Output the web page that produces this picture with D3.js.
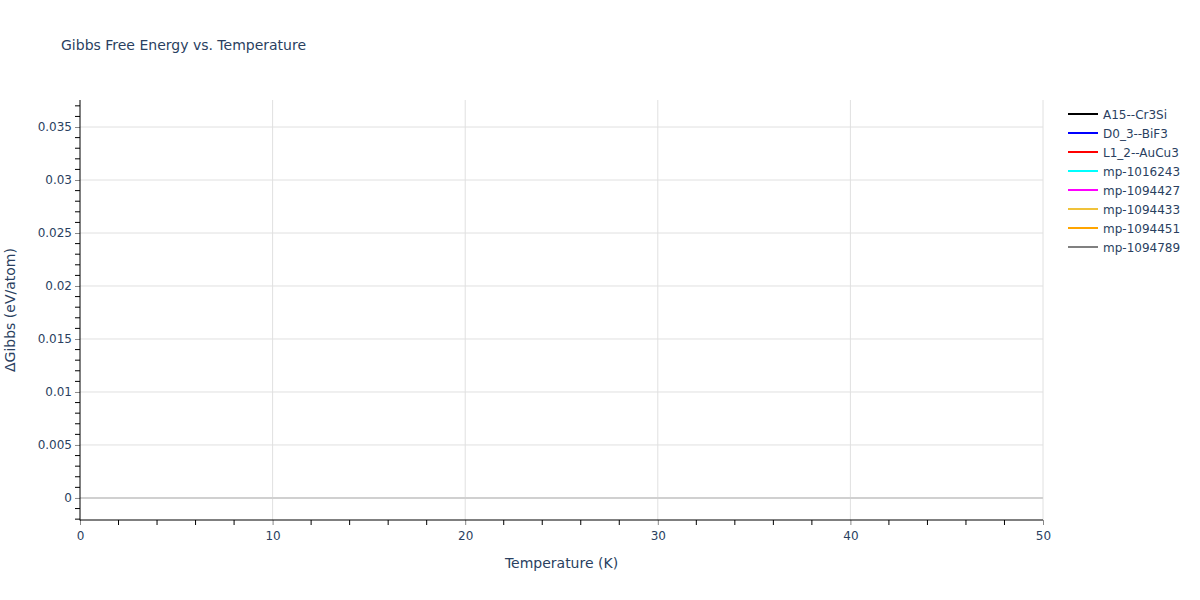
<!DOCTYPE html>
<html><head><meta charset="utf-8">
<script src="https://cdn.jsdelivr.net/npm/d3@7"></script>
<style>body{margin:0;background:#fff;font-family:"DejaVu Sans",Verdana,sans-serif;}</style>
</head><body><svg id="c" width="1200" height="600"></svg>
<script>
const seriesNames = ["A15--Cr3Si","D0_3--BiF3","L1_2--AuCu3","mp-1016243","mp-1094427","mp-1094433","mp-1094451","mp-1094789"];
const seriesColors = ["#000000","#0000ff","#ff0000","#00ffff","#ff00ff","#f0c23a","#ffa500","#808080"];
// No visible trace points in the reference: each series is empty
const seriesTemps = [[],[],[],[],[],[],[],[]];
const seriesValues = [[],[],[],[],[],[],[],[]];
const xTicks = [0,10,20,30,40,50];
const yTicks = [0,0.005,0.01,0.015,0.02,0.025,0.03,0.035];
const yTickLabels = ["0","0.005","0.01","0.015","0.02","0.025","0.03","0.035"];

const svg = d3.select("#c");
const L=80,R=1043,T=100,B=520;
const x = d3.scaleLinear().domain([0,50]).range([L,R]);
const y = d3.scaleLinear().domain([-0.00208,0.03755]).range([B,T]);
const txt="#2a3f5f";
const FF="'DejaVu Sans',Verdana,sans-serif";

// grid
svg.append("g").selectAll("line").data(xTicks.filter(d=>d>0)).join("line")
  .attr("x1",d=>x(d)).attr("x2",d=>x(d)).attr("y1",T).attr("y2",B)
  .attr("stroke","#e0e0e0").attr("stroke-width",1);
svg.append("g").selectAll("line").data(yTicks.filter(d=>d!==0)).join("line")
  .attr("x1",L).attr("x2",R).attr("y1",d=>y(d)).attr("y2",d=>y(d))
  .attr("stroke","#e0e0e0").attr("stroke-width",1);
// zero line
svg.append("line").attr("x1",L).attr("x2",R).attr("y1",y(0)).attr("y2",y(0))
  .attr("stroke","#d0d0d0").attr("stroke-width",2);

// traces
const line = d3.line().x(d=>x(d[0])).y(d=>y(d[1]));
seriesNames.forEach((n,i)=>{
  const pts = seriesTemps[i].map((t,j)=>[t,seriesValues[i][j]]);
  if(pts.length) svg.append("path").attr("d",line(pts)).attr("fill","none")
    .attr("stroke",seriesColors[i]).attr("stroke-width",2);
});

// minor ticks
const yMinor = d3.range(-2,38).map(k=>k*0.001).filter(v=>y(v)>=T && y(v)<=B && Math.abs(Math.round(v*200)-v*200)>1e-6);
svg.append("g").selectAll("line").data(yMinor).join("line")
  .attr("x1",L-5).attr("x2",L).attr("y1",d=>y(d)).attr("y2",d=>y(d)).attr("stroke","#000");
const xMinor = d3.range(0,51,2).filter(v=>v%10!==0);
svg.append("g").selectAll("line").data(xMinor).join("line")
  .attr("x1",d=>x(d)).attr("x2",d=>x(d)).attr("y1",B).attr("y2",B+5).attr("stroke","#000");

// axes
const yAxis = d3.axisLeft(y).tickValues(yTicks).tickFormat((d,i)=>yTickLabels[i]).tickSize(5).tickPadding(3);
const gy = svg.append("g").attr("transform",`translate(${L},0)`).call(yAxis);
const xAxis = d3.axisBottom(x).tickValues(xTicks).tickSize(5).tickPadding(6);
const gx = svg.append("g").attr("transform",`translate(0,${B})`).call(xAxis);
[gx,gy].forEach(g=>{
  g.select(".domain").remove();
  g.selectAll(".tick line").attr("stroke","#888");
  g.selectAll("text").attr("fill",txt).style("font-size","12px").style("font-family",FF);
});
svg.append("line").attr("x1",L).attr("x2",L).attr("y1",T).attr("y2",B+0.5).attr("stroke","#000").attr("stroke-width",1);
svg.append("line").attr("x1",L).attr("x2",R).attr("y1",B).attr("y2",B).attr("stroke","#000").attr("stroke-width",1);

// titles
svg.append("text").attr("x",61).attr("y",50).text("Gibbs Free Energy vs. Temperature")
  .attr("fill",txt).style("font-size","14px");
svg.append("text").attr("x",(L+R)/2).attr("y",568).attr("text-anchor","middle").text("Temperature (K)")
  .attr("fill",txt).style("font-size","14px");
svg.append("text").attr("transform",`translate(15,${(T+B)/2}) rotate(-90)`).attr("text-anchor","middle").text("ΔGibbs (eV/atom)")
  .attr("fill",txt).style("font-size","14px");

// legend
const lg = svg.append("g").selectAll("g").data(seriesNames).join("g")
  .attr("transform",(d,i)=>`translate(1068,${114+i*19})`);
lg.append("line").attr("x1",0).attr("x2",30).attr("y1",0).attr("y2",0)
  .attr("stroke",(d,i)=>seriesColors[i]).attr("stroke-width",2);
lg.append("text").attr("x",35).attr("y",4.5).text(d=>d).attr("fill",txt).style("font-size","12px");
</script></body></html>
